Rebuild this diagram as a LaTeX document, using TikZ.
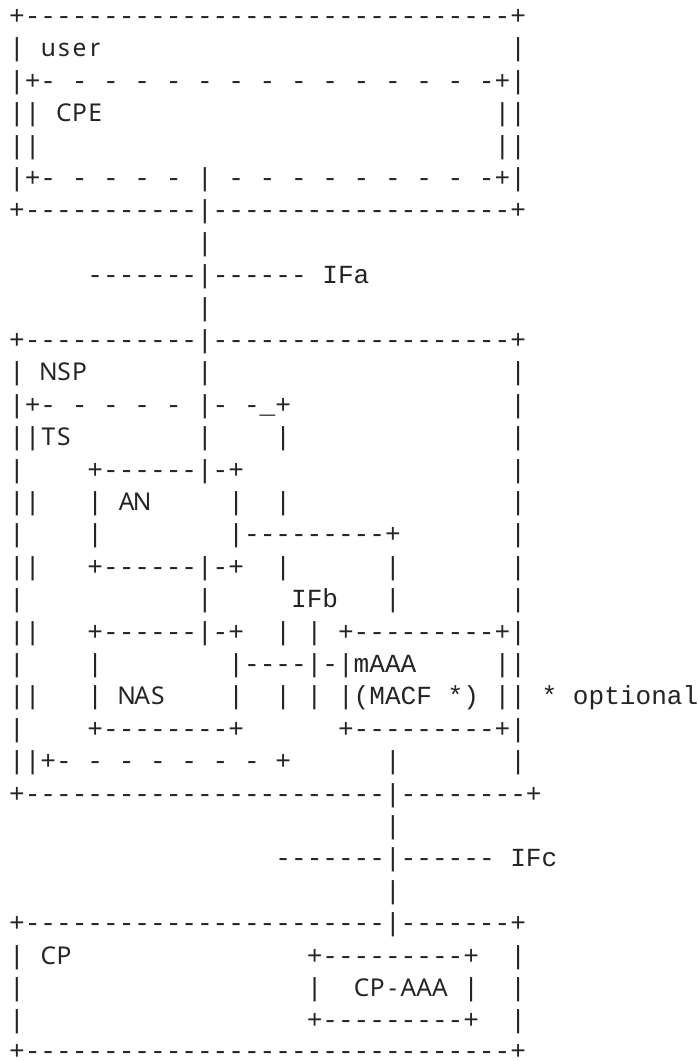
\documentclass[tikz,border=0pt]{standalone}
\usepackage{fontspec}
\setmonofont{Liberation Mono}
\newfontfamily\labfam{Noto Sans}
\definecolor{ink}{RGB}{36,36,36}
\newlength\cw
\setlength\cw{15.6626pt}
\newcommand\monofont{\ttfamily\fontsize{26.1}{32.4}\selectfont}
\ExplSyntaxOn
\cs_new:Npn \myrep #1 #2 { \prg_replicate:nn {#1} {#2} }
\cs_new_protected:Npn \labtext #1
  { \tl_map_inline:nn {#1} { \makebox[\cw][c]{\labfam\fontsize{24.5}{32.4}\selectfont ##1} } }
\ExplSyntaxOff
\newcommand\spc[1]{\hspace*{#1\cw}}
\newcommand\dsh[1]{\myrep{#1}{-}}
\newcommand\pat[1]{\myrep{#1}{-\spc{1}}}
\tikzset{ln/.style={anchor=base west, inner sep=0pt, outer sep=0pt, font=\monofont, text=ink}}
\begin{document}
\begin{tikzpicture}
\fill[white] (0,0) rectangle (698pt,-1061pt);
\useasboundingbox (0,0) rectangle (698pt,-1061pt);
\node[ln] (l1)  at (9.17pt,-24.4pt)  {+\dsh{31}+};
\node[ln] (l2)  at (9.17pt,-56.8pt)  {|\spc{1}\labtext{user}\spc{26}|};
\node[ln] (l3)  at (9.17pt,-89.2pt)  {|+\pat{14}-+|};
\node[ln] (l4)  at (9.17pt,-121.6pt) {||\spc{1}\labtext{CPE}\spc{25}||};
\node[ln] (l5)  at (9.17pt,-154.0pt) {||\spc{29}||};
\node[ln] (l6)  at (9.17pt,-186.4pt) {|+\pat{5}|\spc{1}\pat{8}-+|};
\node[ln] (l7)  at (9.17pt,-218.8pt) {+\dsh{11}|\dsh{19}+};
\node[ln] (l8)  at (9.17pt,-251.2pt) {\spc{12}|};
\node[ln] (l9)  at (9.17pt,-283.6pt) {\spc{5}\dsh{7}|\dsh{6}\spc{1}IFa};
\node[ln] (l10) at (9.17pt,-316.0pt) {\spc{12}|};
\node[ln] (l11) at (9.17pt,-348.4pt) {+\dsh{11}|\dsh{19}+};
\node[ln] (l12) at (9.17pt,-380.8pt) {|\spc{1}\labtext{NSP}\spc{7}|\spc{19}|};
\node[ln] (l13) at (9.17pt,-413.2pt) {|+\pat{5}|-\spc{1}-\_+\spc{14}|};
\node[ln] (l14) at (9.17pt,-445.6pt) {||\labtext{TS}\spc{8}|\spc{4}|\spc{14}|};
\node[ln] (l15) at (9.17pt,-478.0pt) {|\spc{4}+\dsh{6}|-+\spc{17}|};
\node[ln] (l16) at (9.17pt,-510.4pt) {||\spc{3}|\spc{1}\labtext{AN}\spc{5}|\spc{2}|\spc{14}|};
\node[ln] (l17) at (9.17pt,-542.8pt) {|\spc{4}|\spc{8}|\dsh{9}+\spc{7}|};
\node[ln] (l18) at (9.17pt,-575.2pt) {||\spc{3}+\dsh{6}|-+\spc{2}|\spc{6}|\spc{7}|};
\node[ln] (l19) at (9.17pt,-607.6pt) {|\spc{11}|\spc{5}IFb\spc{3}|\spc{7}|};
\node[ln] (l20) at (9.17pt,-640.0pt) {||\spc{3}+\dsh{6}|-+\spc{2}|\spc{1}|\spc{1}+\dsh{9}+|};
\node[ln] (l21) at (9.17pt,-672.4pt) {|\spc{4}|\spc{8}|\dsh{4}|-|mAAA\spc{5}||};
\node[ln] (l22) at (9.17pt,-704.8pt) {||\spc{3}|\spc{1}\labtext{NAS}\spc{4}|\spc{2}|\spc{1}|\spc{1}|(MACF\spc{1}*)\spc{1}||\spc{1}*\spc{1}optional};
\node[ln] (l23) at (9.17pt,-737.2pt) {|\spc{4}+\dsh{8}+\spc{6}+\dsh{9}+|};
\node[ln] (l24) at (9.17pt,-769.6pt) {||+\pat{7}+\spc{6}|\spc{7}|};
\node[ln] (l25) at (9.17pt,-802.0pt) {+\dsh{23}|\dsh{8}+};
\node[ln] (l26) at (9.17pt,-834.4pt) {\spc{24}|};
\node[ln] (l27) at (9.17pt,-866.8pt) {\spc{17}\dsh{7}|\dsh{6}\spc{1}IFc};
\node[ln] (l28) at (9.17pt,-899.2pt) {\spc{24}|};
\node[ln] (l29) at (9.17pt,-931.6pt) {+\dsh{23}|\dsh{7}+};
\node[ln] (l30) at (9.17pt,-964.0pt) {|\spc{1}\labtext{CP}\spc{15}+\dsh{9}+\spc{2}|};
\node[ln] (l31) at (9.17pt,-996.4pt) {|\spc{18}|\spc{2}\labtext{CP-AAA}\spc{1}|\spc{2}|};
\node[ln] (l32) at (9.17pt,-1028.8pt) {|\spc{18}+\dsh{9}+\spc{2}|};
\node[ln] (l33) at (9.17pt,-1059.5pt) {+\dsh{31}+};
\end{tikzpicture}
\end{document}
